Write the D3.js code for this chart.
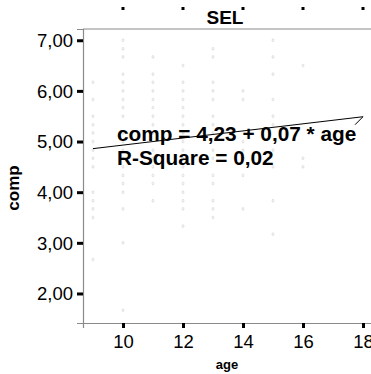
<!DOCTYPE html>
<html>
<head>
<meta charset="utf-8">
<script src="https://cdn.jsdelivr.net/npm/d3@7"></script>
<style>
  html, body { margin: 0; padding: 0; background: #fff; }
  svg { display: block; }
  text { font-family: "Liberation Sans", Arial, sans-serif; }
</style>
</head>
<body>
<svg id="chart" width="371" height="374"></svg>
<script>
// Panel title and axis labels
const panelTitle = "SEL";
const xLabel = "age";
const yLabel = "comp";

// Tick values
const xTicks = [10, 12, 14, 16, 18];
const yTicks = [2, 3, 4, 5, 6, 7];

// Observed comp scores grouped by age (scores are means on a 1–7 scale)
const ages = [9, 10, 11, 12, 13, 14, 15, 16];
const comp9  = [6.17, 5.83, 5.5, 5.33, 5.17, 5.0, 4.83, 4.67, 4.5, 4.0, 3.83, 3.67, 3.5, 2.67];
const comp10 = [7.0, 6.83, 6.67, 6.33, 6.17, 6.0, 5.83, 5.67, 5.5, 5.17, 5.0, 4.83, 4.67, 4.5, 4.33, 4.17, 4.0, 3.67, 3.0, 1.67];
const comp11 = [6.67, 6.33, 6.17, 6.0, 5.83, 5.67, 5.5, 5.33, 5.17, 4.83, 4.67, 4.5, 4.33, 4.17, 3.83];
const comp12 = [6.5, 6.17, 6.0, 5.83, 5.67, 5.5, 5.33, 5.17, 5.0, 4.83, 4.67, 4.5, 4.33, 4.17, 4.0, 3.83, 3.67, 3.33];
const comp13 = [6.83, 6.67, 6.17, 6.0, 5.83, 5.5, 5.33, 5.17, 4.83, 4.67, 4.33, 4.17, 3.83, 3.67, 3.5];
const comp14 = [6.0, 5.83, 5.0, 4.83, 4.67, 4.33, 3.67];
const comp15 = [7.0, 6.67, 6.33, 5.83, 5.5, 5.33, 4.83, 4.5, 3.83, 3.17];
const comp16 = [6.5, 4.67, 4.5];
const compByAge = [comp9, comp10, comp11, comp12, comp13, comp14, comp15, comp16];

// Linear fit: comp = 4,23 + 0,07 * age
const fitIntercept = 4.23;
const fitSlope = 0.07;
const fitRange = [9, 18];
const fitLabel = "comp = 4,23 + 0,07 * age";
const r2Label = "R-Square = 0,02";

const fmt = d3.format(".2f");
const commaDecimal = v => fmt(v).replace(".", ",");

const svg = d3.select("#chart");

const plot = { left: 83, top: 29, right: 373, bottom: 323 };

const x = d3.scaleLinear().domain([8.667, 18.333]).range([plot.left, plot.right]);
const y = d3.scaleLinear().domain([1.417, 7.222]).range([plot.bottom, plot.top]);

const points = [];
ages.forEach((a, i) => compByAge[i].forEach(c => points.push({ age: a, comp: c })));

// Frame: top border
svg.append("line")
  .attr("x1", plot.left).attr("x2", plot.right)
  .attr("y1", plot.top).attr("y2", plot.top)
  .attr("stroke", "#8a8a8a").attr("stroke-width", 1.2);

// Scatter points (faint, small markers)
svg.append("g")
  .selectAll("ellipse")
  .data(points)
  .join("ellipse")
  .attr("cx", d => x(d.age))
  .attr("cy", d => y(d.comp))
  .attr("rx", 0.9)
  .attr("ry", 1.5)
  .attr("fill", "none")
  .attr("stroke", "#d2d2d2")
  .attr("stroke-width", 0.7);

// Axes
const yAxis = d3.axisLeft(y).tickValues(yTicks).tickFormat(commaDecimal).tickSize(6).tickPadding(4);
const xAxis = d3.axisBottom(x).tickValues(xTicks).tickFormat(d3.format("d")).tickSize(5).tickPadding(7);

const gy = svg.append("g").attr("transform", `translate(${plot.left},0)`).call(yAxis);
const gx = svg.append("g").attr("transform", `translate(0,${plot.bottom})`).call(xAxis);

[gx, gy].forEach(g => {
  g.select(".domain").attr("stroke", "#8a8a8a").attr("stroke-width", 1.2);
  g.selectAll(".tick line").attr("stroke", "#000").attr("stroke-width", 3);
  g.selectAll(".tick text").attr("fill", "#000").style("font-size", "18.5px")
    .style("font-family", '"Liberation Sans", Arial, sans-serif');
});
gy.selectAll(".tick text").attr("dy", "0.34em");

// Tick marks of the neighbouring panel's axis along the top edge
svg.append("g")
  .selectAll("line")
  .data(xTicks)
  .join("line")
  .attr("x1", d => x(d)).attr("x2", d => x(d))
  .attr("y1", 7).attr("y2", 10)
  .attr("stroke", "#000").attr("stroke-width", 3);

// Panel title
svg.append("text")
  .attr("x", 225).attr("y", 24)
  .attr("text-anchor", "middle")
  .style("font-size", "19px").style("font-weight", "bold")
  .text(panelTitle);

// Axis titles
svg.append("text")
  .attr("x", 227).attr("y", 369)
  .attr("text-anchor", "middle")
  .style("font-size", "13px").style("font-weight", "bold")
  .text(xLabel);

svg.append("text")
  .attr("transform", "translate(19,188) rotate(-90)")
  .attr("text-anchor", "middle")
  .style("font-size", "17px").style("font-weight", "bold")
  .text(yLabel);

// Fit line with its short label connector
const fitY = a => fitIntercept + fitSlope * a;
const x0 = x(fitRange[0]), y0 = y(fitY(fitRange[0]));
const x1 = x(fitRange[1]), y1 = y(fitY(fitRange[1]));
svg.append("path")
  .attr("d", `M${x0},${y0}L${x1},${y1}L${x1 - 8},${y1 + 8}`)
  .attr("fill", "none")
  .attr("stroke", "#000")
  .attr("stroke-width", 1);

// Fit equation and R-square
const ann = svg.append("g").style("font-size", "20.8px").style("font-weight", "bold");
ann.append("text").attr("x", 117).attr("y", 141).text(fitLabel);
ann.append("text").attr("x", 117).attr("y", 165).text(r2Label);
</script>
</body>
</html>
